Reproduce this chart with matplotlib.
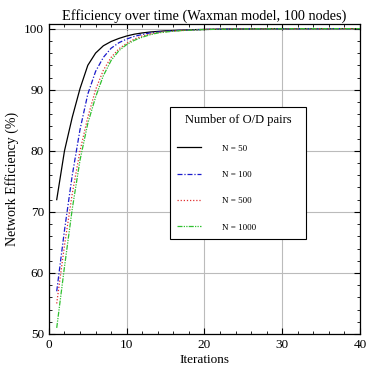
import matplotlib
matplotlib.use("Agg")
import matplotlib.pyplot as plt

iterations = list(range(1, 41))
n50 = [72.0, 80.0, 85.5, 90.2, 94.0, 96.0, 97.2, 97.9, 98.4, 98.8,
       99.1, 99.3, 99.45, 99.55, 99.65, 99.7, 99.75, 99.8, 99.85, 99.88,
       99.9, 99.92, 99.93, 99.94, 99.95, 99.96, 99.97, 99.97, 99.98, 99.98,
       99.98, 99.99, 99.99, 99.99, 99.99, 99.99, 100.0, 100.0, 100.0, 100.0]
n100 = [57.0, 67.0, 76.0, 83.5, 89.3, 93.0, 95.3, 96.8, 97.7, 98.3,
        98.75, 99.05, 99.3, 99.45, 99.57, 99.66, 99.73, 99.78, 99.83, 99.86,
        99.89, 99.91, 99.93, 99.94, 99.95, 99.96, 99.97, 99.97, 99.98, 99.98,
        99.98, 99.99, 99.99, 99.99, 99.99, 99.99, 100.0, 100.0, 100.0, 100.0]
n500 = [55.0, 64.5, 73.0, 80.0, 85.5, 90.0, 93.2, 95.3, 96.7, 97.6,
        98.3, 98.8, 99.1, 99.35, 99.5, 99.6, 99.7, 99.77, 99.82, 99.86,
        99.89, 99.91, 99.93, 99.94, 99.95, 99.96, 99.97, 99.97, 99.98, 99.98,
        99.98, 99.99, 99.99, 99.99, 99.99, 99.99, 100.0, 100.0, 100.0, 100.0]
n1000 = [51.0, 61.0, 70.5, 78.5, 84.5, 88.8, 92.3, 94.8, 96.4, 97.4,
         98.1, 98.6, 99.0, 99.3, 99.45, 99.58, 99.68, 99.75, 99.8, 99.85,
         99.88, 99.9, 99.92, 99.94, 99.95, 99.96, 99.97, 99.97, 99.98, 99.98,
         99.98, 99.99, 99.99, 99.99, 99.99, 99.99, 100.0, 100.0, 100.0, 100.0]
labels = ["N = 50", "N = 100", "N = 500", "N = 1000"]

plt.rcParams['font.family'] = ['Liberation Serif', 'DejaVu Serif']

fig = plt.figure(figsize=(3.68, 3.68), dpi=100)
ax = fig.add_axes([0.133, 0.0924, 0.845, 0.843])

ax.plot(iterations, n50, color='black', lw=0.9, ls='-', label=labels[0])
ax.plot(iterations, n100, color='#1a1acc', lw=0.9, ls=(0, (4, 1.5, 1, 1.5)), label=labels[1])
ax.plot(iterations, n500, color='#e03030', lw=0.9, ls=(0, (1, 1.5)), label=labels[2])
ax.plot(iterations, n1000, color='#30c030', lw=0.9, ls=(0, (4, 1, 1, 1, 1, 1)), label=labels[3])

ax.set_xlim(0, 40)
ax.set_ylim(50, 100.8)
ax.set_xticks([0, 10, 20, 30, 40])
ax.set_yticks([50, 60, 70, 80, 90, 100])
ax.set_xticks(range(0, 41, 2), minor=True)
ax.set_yticks(range(50, 101, 2), minor=True)
ax.tick_params(which='both', direction='in', top=True, right=True, labelsize=9.5)
ax.tick_params(which='major', length=4, width=0.8)
ax.tick_params(which='minor', length=2, width=0.6)
ax.grid(True, which='major', color='#bbbbbb', lw=0.8)
for s in ax.spines.values():
    s.set_linewidth(0.9)

ax.set_title("Efficiency over time (Waxman model, 100 nodes)", fontsize=10.3, pad=3)
ax.set_xlabel("Iterations", fontsize=9.5, labelpad=2)
ax.set_ylabel("Network Efficiency (%)", fontsize=10, labelpad=4)

leg = ax.legend(loc='upper left', bbox_to_anchor=(0.389, 0.297, 0.437, 0.435),
                mode='expand', fontsize=6.5,
                title="Number of O/D pairs", title_fontsize=9,
                frameon=True, fancybox=False, edgecolor='black', framealpha=1,
                handlelength=2.6, handletextpad=2.4, labelspacing=2.0,
                borderpad=0.8, borderaxespad=0)
leg.get_frame().set_linewidth(0.8)

fig.savefig("out.png", dpi=100)
